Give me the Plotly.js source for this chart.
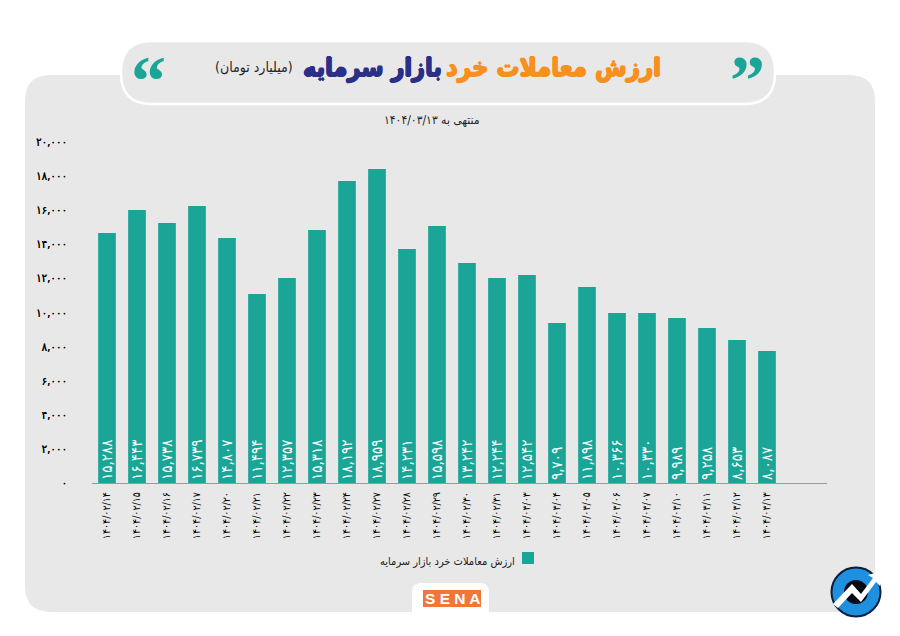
<!DOCTYPE html>
<html><head><meta charset="utf-8">
<script src="https://cdn.plot.ly/plotly-3.0.1.min.js"></script>
<style>html,body{margin:0;padding:0;background:#fff}</style></head>
<body><div id="chart" style="width:900px;height:636px"></div>
<script>
const dates = ["۱۴۰۴/۰۲/۱۴","۱۴۰۴/۰۲/۱۵","۱۴۰۴/۰۲/۱۶","۱۴۰۴/۰۲/۱۷","۱۴۰۴/۰۲/۲۰","۱۴۰۴/۰۲/۲۱","۱۴۰۴/۰۲/۲۲","۱۴۰۴/۰۲/۲۳","۱۴۰۴/۰۲/۲۴","۱۴۰۴/۰۲/۲۷","۱۴۰۴/۰۲/۲۸","۱۴۰۴/۰۲/۲۹","۱۴۰۴/۰۲/۳۰","۱۴۰۴/۰۲/۳۱","۱۴۰۴/۰۳/۰۳","۱۴۰۴/۰۳/۰۴","۱۴۰۴/۰۳/۰۵","۱۴۰۴/۰۳/۰۶","۱۴۰۴/۰۳/۰۷","۱۴۰۴/۰۳/۱۰","۱۴۰۴/۰۳/۱۱","۱۴۰۴/۰۳/۱۲","۱۴۰۴/۰۳/۱۳"];
const barHeights = [14663,16012,15249,16246,14370,11085,12023,14839,17713,18416,13724,15073,12903,12023,12199,9384,11496,9971,9971,9677,9091,8387,7742];
const barLabels = ["۱۵,۲۸۸","۱۶,۴۴۳","۱۵,۷۳۸","۱۶,۷۳۹","۱۴,۸۰۷","۱۱,۴۹۴","۱۲,۳۵۷","۱۵,۳۱۸","۱۸,۱۹۲","۱۸,۹۵۹","۱۴,۲۳۱","۱۵,۵۹۸","۱۳,۲۴۲","۱۲,۲۴۴","۱۲,۵۴۲","۹,۷۰۹","۱۱,۸۹۸","۱۰,۳۶۶","۱۰,۳۳۰","۹,۹۸۹","۹,۲۵۸","۸,۶۵۳","۸,۰۸۷"];
const yTickVals = [0,2000,4000,6000,8000,10000,12000,14000,16000,18000,20000];
const yTickText = ["۰","۲,۰۰۰","۴,۰۰۰","۶,۰۰۰","۸,۰۰۰","۱۰,۰۰۰","۱۲,۰۰۰","۱۴,۰۰۰","۱۶,۰۰۰","۱۸,۰۰۰","۲۰,۰۰۰"];
const seriesName = "ارزش معاملات خرد بازار سرمایه";

const TEAL="#1ba597", ORANGE="#f7901e", NAVY="#2b3087", PANEL="#e9e8e8";
const W=900,H=636,L=92,R=827,T=142,B=483;
const px=x=>(x-L)/(R-L), py=y=>(B-y)/(B-T);
const FONT="DejaVu Sans Condensed, DejaVu Sans";
const heavy=(c,d)=>`${d}px 0 0 ${c}, -${d}px 0 0 ${c}, 0 ${d}px 0 ${c}, 0 -${d}px 0 ${c}`;
function rr(x0,y0,x1,y1,r){
  const X=px,Y=py;
  return `M${X(x0+r)},${Y(y0)} L${X(x1-r)},${Y(y0)} Q${X(x1)},${Y(y0)} ${X(x1)},${Y(y0+r)} L${X(x1)},${Y(y1-r)} Q${X(x1)},${Y(y1)} ${X(x1-r)},${Y(y1)} L${X(x0+r)},${Y(y1)} Q${X(x0)},${Y(y1)} ${X(x0)},${Y(y1-r)} L${X(x0)},${Y(y0+r)} Q${X(x0)},${Y(y0)} ${X(x0+r)},${Y(y0)} Z`;
}
function poly(pts){return pts.map((p,i)=>(i?'L':'M')+px(p[0])+','+py(p[1])).join(' ')+' Z';}
const pshape=(path,fill,line,lw)=>({type:'path',xref:'paper',yref:'paper',layer:'below',path,fillcolor:fill,line:{color:line||fill,width:lw||0}});
const circ=(cx,cy,r,fill,line,lw)=>({type:'circle',xref:'paper',yref:'paper',layer:'above',x0:px(cx-r),x1:px(cx+r),y0:py(cy+r),y1:py(cy-r),fillcolor:fill,line:{color:line||fill,width:lw||0}});
const note=(x,y,text,size,color,extra)=>Object.assign({xref:'paper',yref:'paper',x:px(x),y:py(y),text,showarrow:false,font:{family:FONT,size,color},xanchor:'center',yanchor:'middle'},extra||{});

const shapes=[
  pshape(rr(25,75,875,612,26),PANEL),
  pshape(rr(121,41,775,104,31),PANEL,'#ffffff',2.5),
  pshape(rr(412,583,489,625,9),'#ffffff'),
  {type:'rect',xref:'paper',yref:'paper',layer:'below',x0:px(522),x1:px(534),y0:py(564),y1:py(552),fillcolor:TEAL,line:{width:0}},
  {type:'rect',xref:'paper',yref:'paper',layer:'below',x0:px(423),x1:px(481),y0:py(607),y1:py(590),fillcolor:'#f0763a',line:{width:0}},
  circ(856,592,24.5,'#1f8fe0','#0b1f3a',2),
  circ(856,592,12,'#0a0a14'),
  Object.assign(pshape(poly([[833,604],[852,584],[861,594],[873,578],[868,575],[882,571],[880,586],[876,582],[861,602],[852,593],[838,608]]),'#ffffff'),{layer:'above'})
];
const annotations=[
  note(553,68,"<b>ارزش معاملات خرد</b>",25.5,ORANGE,{font:{family:FONT,size:25.5,color:ORANGE,shadow:heavy(ORANGE,0.8)}}),
  note(372.5,68,"<b>بازار سرمایه</b>",25,NAVY,{font:{family:FONT,size:25,color:NAVY,shadow:heavy(NAVY,0.8)}}),
  note(254,68,"(میلیارد تومان)",14,"#222222"),
  note(148,81,"“",70,TEAL,{font:{family:"Liberation Serif",size:70,color:TEAL,weight:700}}),
  note(747,81,"”",70,TEAL,{font:{family:"Liberation Serif",size:70,color:TEAL,weight:700}}),
  note(431.5,120,"منتهی به ۱۴۰۴/۰۳/۱۳",12,"#222222"),
  note(447.5,561,seriesName,11,"#222222"),
  note(452,598.5,"S E N A",15.5,"#ffffff",{font:{family:"Liberation Sans",size:15.5,color:"#ffffff",weight:700}})
];
const data=[{type:'bar',name:seriesName,x:dates,y:barHeights,text:barLabels,
  marker:{color:TEAL,line:{width:0}},width:0.59,
  textposition:'inside',insidetextanchor:'start',textangle:-90,constraintext:'none',cliponaxis:false,
  insidetextfont:{family:FONT,size:15,color:'#ffffff'},hoverinfo:'x+y'}];
const layout={width:W,height:H,showlegend:false,
  margin:{l:L,r:W-R,t:T,b:H-B,pad:0},
  paper_bgcolor:'#ffffff',plot_bgcolor:'rgba(0,0,0,0)',
  font:{family:FONT,color:'#222222'},
  xaxis:{type:'category',range:[-0.5,24],tickangle:-90,ticks:'',showgrid:false,
    showline:true,linecolor:'#9a9a9a',linewidth:1,zeroline:false,
    tickfont:{family:FONT,size:10.5,color:'#000000'},ticklabelstandoff:4,automargin:false},
  yaxis:{range:[0,20000],tickmode:'array',tickvals:yTickVals,ticktext:yTickText,showgrid:false,
    zeroline:false,showline:false,ticks:'',ticklabelstandoff:24,
    tickfont:{family:FONT,size:11.5,color:'#000000',shadow:'0.3px 0 0 #000000'},automargin:false},
  shapes,annotations};
Plotly.newPlot('chart',data,layout,{displayModeBar:false,responsive:false});
</script></body></html>
